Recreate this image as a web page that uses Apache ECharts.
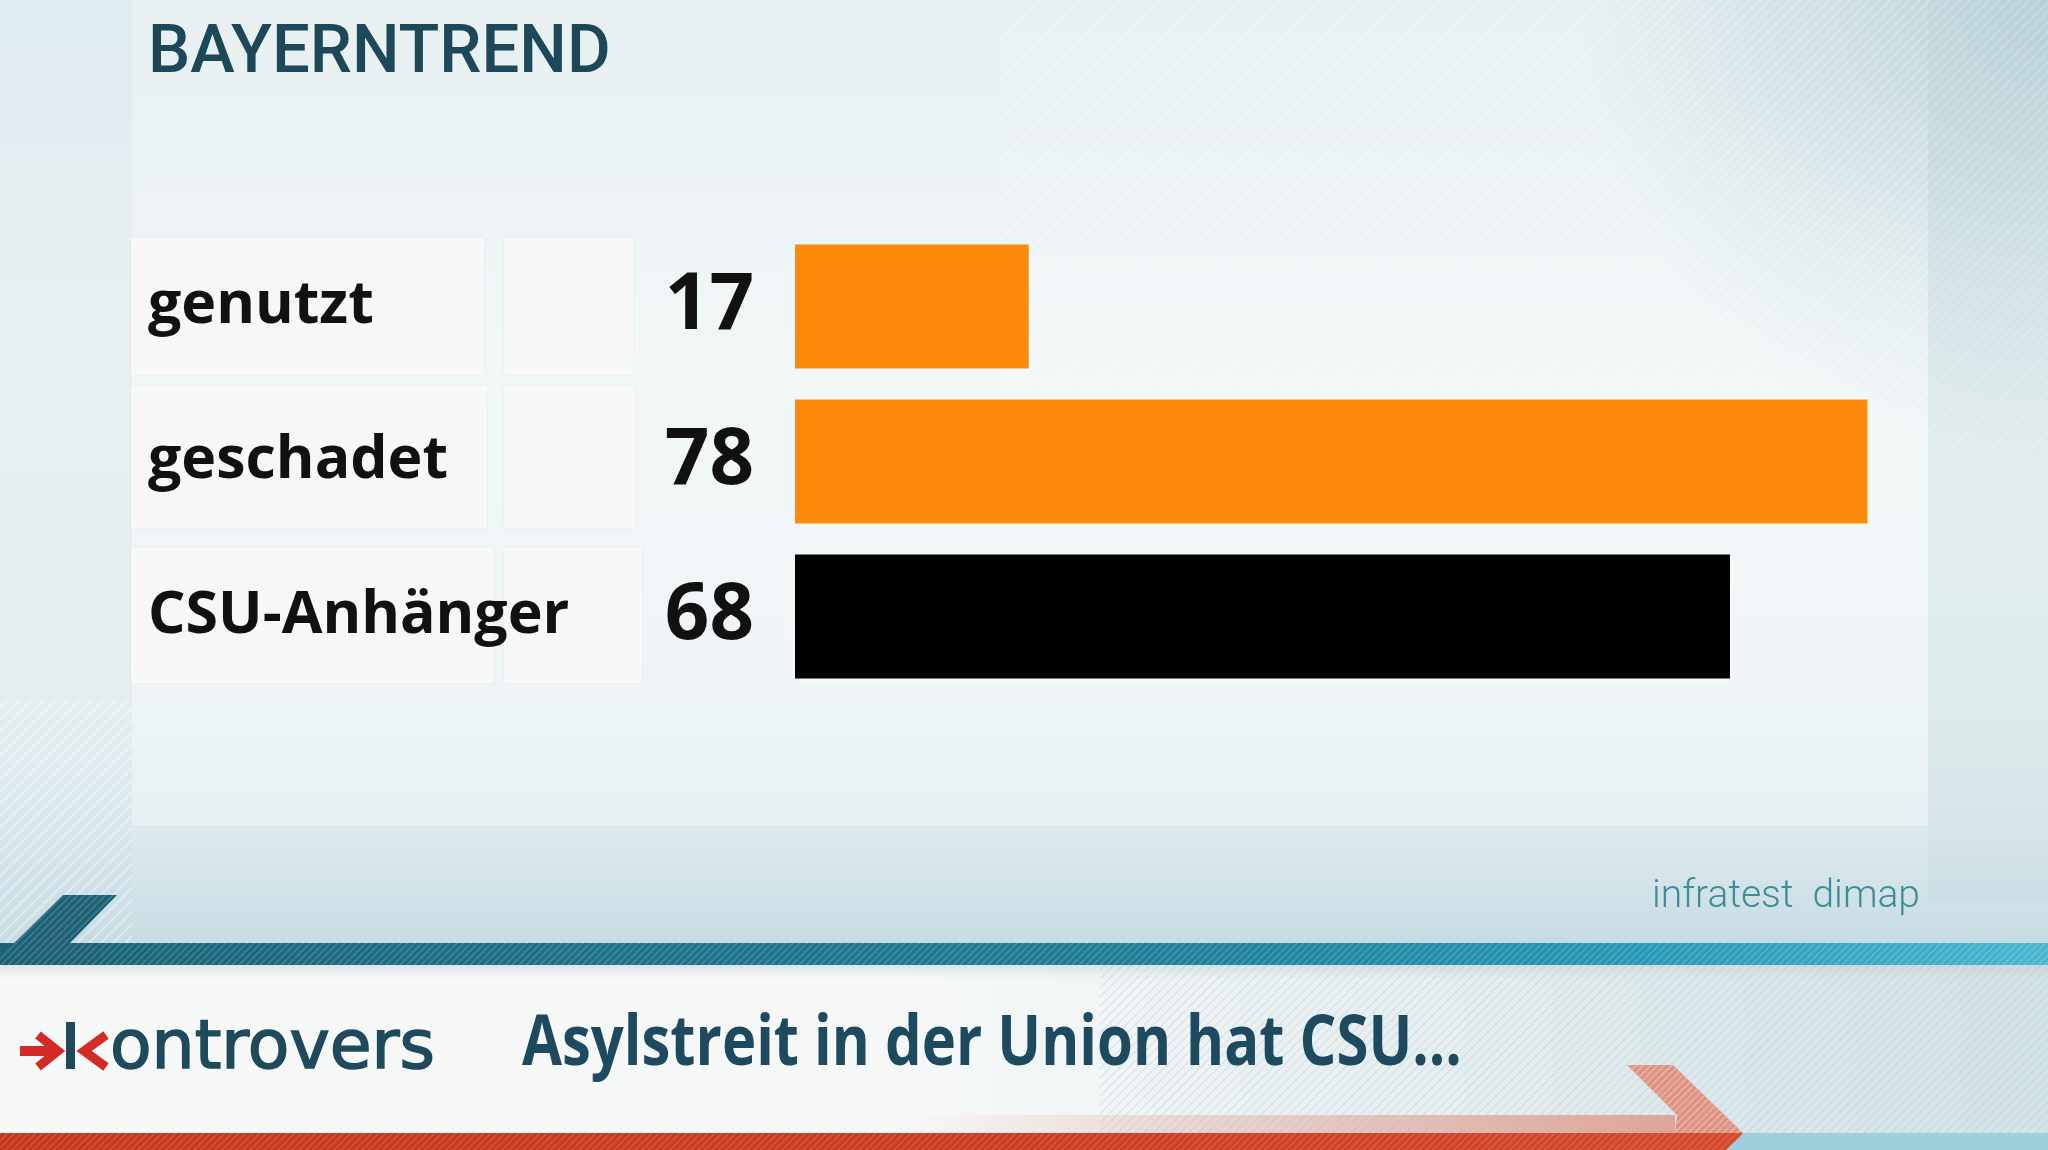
<!DOCTYPE html>
<html><head><meta charset="utf-8">
<script src="https://cdn.jsdelivr.net/npm/echarts@6/dist/echarts.min.js"></script>
<style>html,body{margin:0;padding:0;overflow:hidden;}#c{width:2048px;height:1150px;}</style>
</head><body><div id="c"></div>
<script>
// ---- data ----
const categories = ['genutzt', 'geschadet', 'CSU-Anhänger'];
const values = [17, 78, 68];
const barColors = ['#fd8a0c', '#fd8a0c', '#000000'];
const titleText = 'BAYERNTREND';
const sourceText = 'infratest  dimap';
const showName = 'ontrovers';
const headline = 'Asylstreit in der Union hat CSU...';

function hatch(line, bg, size, lw) {
  const c = document.createElement('canvas');
  c.width = size; c.height = size;
  const g = c.getContext('2d');
  if (bg) { g.fillStyle = bg; g.fillRect(0, 0, size, size); }
  g.strokeStyle = line; g.lineWidth = lw;
  for (let k = -1; k <= 1; k++) {
    g.beginPath();
    g.moveTo(k * size, size); g.lineTo(k * size + size, 0);
    g.stroke();
  }
  return { image: c, repeat: 'repeat' };
}
function lin(x, y, x2, y2, stops) {
  return new echarts.graphic.LinearGradient(x, y, x2, y2, stops.map(s => ({ offset: s[0], color: s[1] })));
}

const chart = echarts.init(document.getElementById('c'), null, { renderer: 'canvas', width: 2048, height: 1150 });

const bg = [
  { type: 'rect', shape: { x: 0, y: 0, width: 2048, height: 1150 }, z: -10,
    style: { fill: lin(0, 0, 0, 1, [[0, '#e8f0f2'], [0.3, '#eef4f5'], [0.6, '#ebf2f3'], [0.72, '#dfeaee'], [0.82, '#c6dce2']]) } },
  { type: 'rect', shape: { x: 1000, y: 0, width: 1048, height: 520 }, z: -9,
    style: { fill: new echarts.graphic.RadialGradient(1, 0, 0.9, [{ offset: 0, color: 'rgba(150,185,195,0.55)' }, { offset: 1, color: 'rgba(150,185,195,0)' }]) } },
  { type: 'rect', shape: { x: 1000, y: 0, width: 1048, height: 450 }, z: -9,
    style: { fill: hatch('rgba(255,255,255,0.35)', null, 10, 1.5), opacity: 0.8 } },
  { type: 'rect', shape: { x: 1928, y: 0, width: 120, height: 900 }, z: -8,
    style: { fill: 'rgba(175,205,212,0.18)' } },
  { type: 'rect', shape: { x: 0, y: 0, width: 132, height: 900 }, z: -8,
    style: { fill: 'rgba(185,215,230,0.12)' } },
  { type: 'rect', shape: { x: 132, y: 90, width: 1796, height: 735 }, z: -7,
    style: { fill: lin(0, 0, 0, 1, [[0, 'rgba(255,255,255,0)'], [0.4, 'rgba(255,255,255,0.25)'], [1, 'rgba(240,247,249,0.45)']]) } },
  { type: 'rect', shape: { x: 0, y: 700, width: 132, height: 250 }, z: -7,
    style: { fill: hatch('rgba(255,255,255,0.35)', null, 12, 2) } },
  ...[[238, 375, 484, 633], [386, 528, 487, 635], [548, 683, 493, 642]].flatMap(r => [
    { type: 'rect', shape: { x: 131, y: r[0], width: r[2] - 131, height: r[1] - r[0] }, z: -5,
      style: { fill: 'rgba(248,248,247,0.9)', shadowColor: 'rgba(200,210,215,0.3)', shadowBlur: 4 } },
    { type: 'rect', shape: { x: 504, y: r[0], width: r[3] - 504, height: r[1] - r[0] }, z: -5,
      style: { fill: 'rgba(248,248,247,0.9)', shadowColor: 'rgba(200,210,215,0.3)', shadowBlur: 4 } }
  ]),
  { type: 'rect', shape: { x: 0, y: 943, width: 2048, height: 22 }, z: -4,
    style: { fill: lin(0, 0, 1, 0, [[0, '#1b6378'], [0.55, '#1f7d96'], [0.8, '#2798b5'], [1, '#4ab6d0']]) } },
  { type: 'polygon', shape: { points: [[63, 895], [117, 895], [70, 943], [100, 943], [100, 965], [-8, 965]] }, z: -4,
    style: { fill: '#1b6075' } },
  { type: 'rect', shape: { x: 1400, y: 965, width: 648, height: 17 }, z: -4,
    style: { fill: lin(0, 0, 1, 0, [[0, 'rgba(90,185,210,0)'], [0.4, 'rgba(90,185,210,0.75)'], [1, 'rgba(100,190,215,0.9)']]) } },
  { type: 'polygon', shape: { points: [[63, 895], [117, 895], [70, 943], [2048, 943], [2048, 965], [-8, 965]] }, z: -3,
    style: { fill: hatch('rgba(255,255,255,0.18)', null, 7, 1.5) } },
  { type: 'rect', shape: { x: 0, y: 965, width: 2048, height: 168 }, z: -4,
    style: { fill: lin(0, 0, 1, 0, [[0, '#f7f9f9'], [0.45, '#f6f8f8'], [0.7, '#e6eef0'], [0.9, '#d8e5e9'], [1, '#d3e2e7']]) } },
  { type: 'rect', shape: { x: 1100, y: 965, width: 948, height: 168 }, z: -3,
    style: { fill: hatch('rgba(170,195,205,0.35)', null, 9, 1.2) } },
  { type: 'rect', shape: { x: 0, y: 965, width: 2048, height: 14 }, z: -3,
    style: { fill: lin(0, 0, 0, 1, [[0, 'rgba(190,205,210,0.45)'], [1, 'rgba(190,205,210,0)']]) } },
  { type: 'rect', shape: { x: 0, y: 1133, width: 2048, height: 17 }, z: -4,
    style: { fill: '#9fcfda' } },
  { type: 'rect', shape: { x: 900, y: 1115, width: 775, height: 18 }, z: -4,
    style: { fill: lin(0, 0, 1, 0, [[0, 'rgba(228,140,120,0)'], [1, 'rgba(228,140,120,0.75)']]) } },
  { type: 'polygon', shape: { points: [[1627, 1065], [1673, 1065], [1743, 1133], [1735, 1142], [1660, 1133], [1675, 1133], [1677, 1115]] }, z: -4,
    style: { fill: 'rgba(226,128,108,0.85)' } },
  { type: 'polygon', shape: { points: [[1627, 1065], [1673, 1065], [1743, 1133], [1675, 1133], [1677, 1115]] }, z: -3,
    style: { fill: hatch('rgba(255,255,255,0.3)', null, 7, 1.5) } },
  { type: 'polygon', shape: { points: [[0, 1133], [1743, 1133], [1726, 1150], [0, 1150]] }, z: -4,
    style: { fill: lin(0, 0, 1, 0, [[0, '#c8361e'], [0.6, '#cc3c22'], [1, '#d5492d']]) } },
  { type: 'polygon', shape: { points: [[0, 1133], [1743, 1133], [1726, 1150], [0, 1150]] }, z: -3,
    style: { fill: hatch('rgba(255,255,255,0.15)', null, 7, 1.5) } },
];

const texts = [
  { type: 'text', x: 148, y: 55, z: 5,
    style: { text: titleText, fill: '#1c4859', font: '500 67px Roboto', verticalAlign: 'middle', align: 'left' } },
  { type: 'text', x: 1920, y: 897, z: 5,
    style: { text: sourceText, fill: '#3e8e9a', font: '300 39px Roboto', verticalAlign: 'middle', align: 'right' } },
  { type: 'line', shape: { x1: 20, y1: 1051, x2: 56, y2: 1051 }, z: 5, style: { stroke: '#d42a26', lineWidth: 10 } },
  { type: 'polyline', shape: { points: [[38, 1035], [58, 1051], [38, 1067]] }, z: 5, style: { stroke: '#d42a26', lineWidth: 9, lineJoin: 'miter' } },
  { type: 'rect', shape: { x: 66, y: 1022, width: 9, height: 47 }, z: 5, style: { fill: '#1e4a5c' } },
  { type: 'polyline', shape: { points: [[106, 1035], [84, 1051], [106, 1067]] }, z: 5, style: { stroke: '#d42a26', lineWidth: 9, lineJoin: 'miter' } },
  { type: 'text', x: 110, y: 1050, z: 5,
    style: { text: showName, fill: '#1e4a5c', stroke: '#1e4a5c', lineWidth: 1.6, font: '68px "DejaVu Sans"', verticalAlign: 'middle', align: 'left' } },
  { type: 'text', x: 522, y: 1045, z: 5, scaleY: 1.2,
    style: { text: headline, fill: '#1d4a5e', font: '700 58px "Open Sans"', verticalAlign: 'middle', align: 'left' } },
];

chart.setOption({
  animation: false,
  backgroundColor: '#eaf2f4',
  graphic: { elements: bg.concat(texts) },
  grid: { left: 795, top: 229, width: 1100, height: 465, containLabel: false },
  xAxis: { type: 'value', min: 0, max: 80, show: false },
  yAxis: {
    type: 'category', inverse: true, data: categories,
    axisLine: { show: false }, axisTick: { show: false }, splitLine: { show: false },
    axisLabel: { align: 'left', margin: 647, fontSize: 59, fontWeight: 700, color: '#111', fontFamily: 'Open Sans' }
  },
  series: [{
    type: 'bar', barWidth: 124, z: 3,
    data: values.map((v, i) => ({ value: v, itemStyle: { color: barColors[i] } })),
    itemStyle: { shadowColor: 'rgba(255,255,255,0.9)', shadowBlur: 5 },
    label: { show: true, position: 'left', distance: 41, formatter: '{c}', fontSize: 78, fontWeight: 700, fontFamily: 'Open Sans', color: '#111' }
  }]
});
</script></body></html>
